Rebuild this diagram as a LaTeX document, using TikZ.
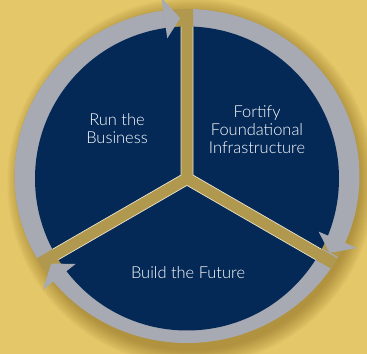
\documentclass[tikz,border=0pt]{standalone}
\usepackage{fontspec}
\setmainfont{Lato}[UprightFont=* Light]

\definecolor{bggold}{RGB}{228,199,104}
\definecolor{navy}{RGB}{4,41,87}
\definecolor{ringgray}{RGB}{167,170,178}
\definecolor{gapgold}{RGB}{176,152,78}
\definecolor{halo}{RGB}{120,88,20}
\definecolor{rim}{RGB}{236,228,200}

\tikzset{
  sector/.style={fill=navy},
  gap/.style={draw=gapgold, line width=12bp},
  gapedge/.style={draw=rim, line width=0.7bp},
  ringarrow/.style={fill=ringgray},
  phase/.style={text=white, align=center, font=\fontsize{16.5}{18}\selectfont}
}

% body of a ring piece, clockwise from #1 down to #2
\newcommand{\ringbody}[2]{%
  \fill[ringarrow] (#1:167) arc[start angle=#1, end angle=#2, radius=167]
    -- (#2:140) arc[start angle=#2, end angle=#1, radius=140] -- cycle;
}
% arrow head with its back at #1 and its tip at #2
\newcommand{\ringhead}[2]{%
  \fill[ringarrow] (#1:180) -- (#2:158) -- (#1:139) -- cycle;
}

\begin{document}
\begin{tikzpicture}[x=1bp, y=1bp]
  \useasboundingbox (0,0) rectangle (367,354);
  \fill[bggold] (0,0) rectangle (367,354);

  % soft shadow, falling to the lower right
  \foreach \i in {0,...,16}
    \fill[halo, opacity=0.03] (191,172) circle (168+\i);

  \begin{scope}[shift={(187,175.5)}]
    % ring pieces (slightly wider than tall)
    \begin{scope}[shift={(0,2.5)}, x=1.033bp]
      \fill[gapgold] (0,0) circle (167);
      \ringbody{211}{97.9}
      \ringbody{91}{-23.6}
      \ringbody{-29}{-143.2}
    \end{scope}

    % navy wheel split by the gold gaps
    \fill[sector] (0,0) circle (152);
    \begin{scope}
      \clip[shift={(0,2.5)}, x=1.033bp] (0,0) circle (167);
      \draw[gap] (0,0) -- (90:200) (0,0) -- (210:200) (0,0) -- (-30:200);
    \end{scope}
    \begin{scope}
      \clip (0,0) circle (152);
      \foreach \a in {90,210,-30}
        \draw[gapedge] (\a+60:6.93) +(\a:200) -- (\a+60:6.93) -- +(\a+120:200);
    \end{scope}

    % arrow heads on top
    \begin{scope}[shift={(0,2.5)}, x=1.033bp]
      \ringhead{97.9}{92.4}
      \ringhead{-23.6}{-29.1}
      \ringhead{219.2}{213.7}
    \end{scope}
  \end{scope}

  \node[phase] (run) at (117,225) {Run the\\Business};
  \node[phase] (fortify) at (257,224.5) {Fortify\\Foundational\\Infrastructure};
  \node[phase] (build) at (188,81.5) {Build the Future};
\end{tikzpicture}
\end{document}
